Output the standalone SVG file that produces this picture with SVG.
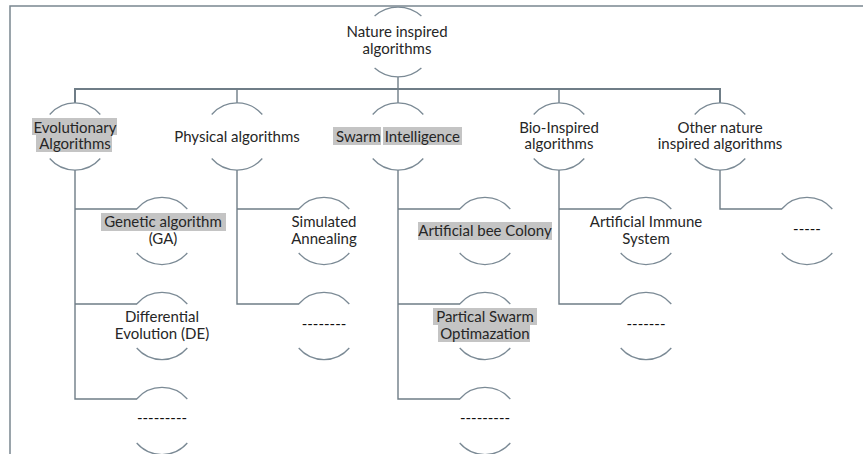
<svg xmlns="http://www.w3.org/2000/svg" xmlns:xlink="http://www.w3.org/1999/xlink" width="863" height="454" viewBox="0 0 863 454">
  <style>
    .frame { fill: none; stroke: #7a8790; stroke-width: 1.5; }
    .bus { fill: none; stroke: #6f7d87; stroke-width: 2; }
    .link { fill: none; stroke: #6f7d87; stroke-width: 1.4; }
    .ring { fill: none; stroke: #7b8a95; stroke-width: 1.3; }
    .lbl { font-family: Lato, "Liberation Sans", sans-serif; font-size: 15px; fill: #262626; text-anchor: middle; }
    .dash { font-family: Lato, "Liberation Sans", sans-serif; font-size: 15px; fill: #111; text-anchor: middle; }
    .hl { fill: #c4c4c4; }
  </style>
  <defs>
    <!-- open circle: only the top and bottom caps are stroked -->
    <path id="ring" class="ring" d="M-25.3,-22 A33.5,33.5 0 0 1 25.3,-22 M-25.3,22 A33.5,33.5 0 0 0 25.3,22"/>
    <path id="ring-root" class="ring" d="M-23.4,-26 A35,35 0 0 1 23.4,-26 M-23.4,26 A35,35 0 0 0 23.4,26"/>
  </defs>
  <rect width="863" height="454" fill="#fff"/>
  <path class="frame" d="M10,454 V6 H863"/>

  <g id="connectors">
    <path class="link" d="M398,77 V89"/>
    <path class="bus" d="M75,103 V89 H720 V103"/>
    <path class="link" d="M237,89 V103 M398,89 V103 M559,89 V103"/>
    <!-- Evolutionary branches -->
    <path class="link" d="M75,170 V399 H137 M75,209 H137 M75,304 H137"/>
    <!-- Physical branches -->
    <path class="link" d="M237,170 V304 H299 M237,209 H299"/>
    <!-- Swarm branches -->
    <path class="link" d="M398,170 V399 H460 M398,209 H460 M398,304 H460"/>
    <!-- Bio-inspired branches -->
    <path class="link" d="M559,170 V304 H621 M559,209 H621"/>
    <!-- Other branch -->
    <path class="link" d="M720,170 V209 H782"/>
  </g>

  <g id="root">
    <use xlink:href="#ring-root" x="398" y="42"/>
    <text class="lbl" x="397" y="37">Nature inspired</text>
    <text class="lbl" x="397" y="54">algorithms</text>
  </g>

  <g id="evolutionary">
    <use xlink:href="#ring" x="75" y="136.5"/>
    <rect class="hl" x="32" y="118" width="85" height="17"/>
    <rect class="hl" x="36" y="135" width="76" height="17"/>
    <text class="lbl" x="75" y="132.5">Evolutionary</text>
    <text class="lbl" x="75" y="149">Algorithms</text>
  </g>

  <g id="physical">
    <use xlink:href="#ring" x="237" y="136.5"/>
    <text class="lbl" x="237" y="141.5">Physical algorithms</text>
  </g>

  <g id="swarm">
    <use xlink:href="#ring" x="398" y="136.5"/>
    <rect class="hl" x="333" y="127" width="48" height="18"/>
    <rect class="hl" x="383" y="127" width="79" height="18"/>
    <text class="lbl" x="398" y="141.5">Swarm Intelligence</text>
  </g>

  <g id="bio">
    <use xlink:href="#ring" x="559" y="136.5"/>
    <text class="lbl" x="559" y="132.5">Bio-Inspired</text>
    <text class="lbl" x="559" y="149">algorithms</text>
  </g>

  <g id="other">
    <use xlink:href="#ring" x="720" y="136.5"/>
    <text class="lbl" x="720" y="132.5">Other nature</text>
    <text class="lbl" x="720" y="149">inspired algorithms</text>
  </g>

  <g id="ga">
    <use xlink:href="#ring" x="162" y="231"/>
    <rect class="hl" x="101" y="213" width="125" height="18"/>
    <text class="lbl" x="163" y="227">Genetic algorithm</text>
    <text class="lbl" x="163" y="244">(GA)</text>
  </g>

  <g id="de">
    <use xlink:href="#ring" x="162" y="326"/>
    <text class="lbl" x="162" y="322">Differential</text>
    <text class="lbl" x="162" y="339">Evolution (DE)</text>
  </g>

  <g id="evo-more">
    <use xlink:href="#ring" x="162" y="421"/>
    <text class="dash" x="162" y="423">---------</text>
  </g>

  <g id="sa">
    <use xlink:href="#ring" x="324" y="231"/>
    <text class="lbl" x="324" y="227">Simulated</text>
    <text class="lbl" x="324" y="244">Annealing</text>
  </g>

  <g id="phys-more">
    <use xlink:href="#ring" x="324" y="326"/>
    <text class="dash" x="324" y="329">--------</text>
  </g>

  <g id="abc">
    <use xlink:href="#ring" x="485" y="231"/>
    <rect class="hl" x="418" y="222" width="134" height="18"/>
    <text class="lbl" x="485" y="235.5">Artificial bee Colony</text>
  </g>

  <g id="pso">
    <use xlink:href="#ring" x="485" y="326"/>
    <rect class="hl" x="433" y="308" width="104" height="17"/>
    <rect class="hl" x="438" y="325" width="92" height="17"/>
    <text class="lbl" x="485" y="322">Partical Swarm</text>
    <text class="lbl" x="485" y="339">Optimazation</text>
  </g>

  <g id="swarm-more">
    <use xlink:href="#ring" x="485" y="421"/>
    <text class="dash" x="485" y="423">---------</text>
  </g>

  <g id="ais">
    <use xlink:href="#ring" x="646" y="231"/>
    <text class="lbl" x="646" y="227">Artificial Immune</text>
    <text class="lbl" x="646" y="244">System</text>
  </g>

  <g id="bio-more">
    <use xlink:href="#ring" x="646" y="326"/>
    <text class="dash" x="646" y="329">-------</text>
  </g>

  <g id="other-more">
    <use xlink:href="#ring" x="807" y="231"/>
    <text class="dash" x="807" y="234">-----</text>
  </g>
</svg>
